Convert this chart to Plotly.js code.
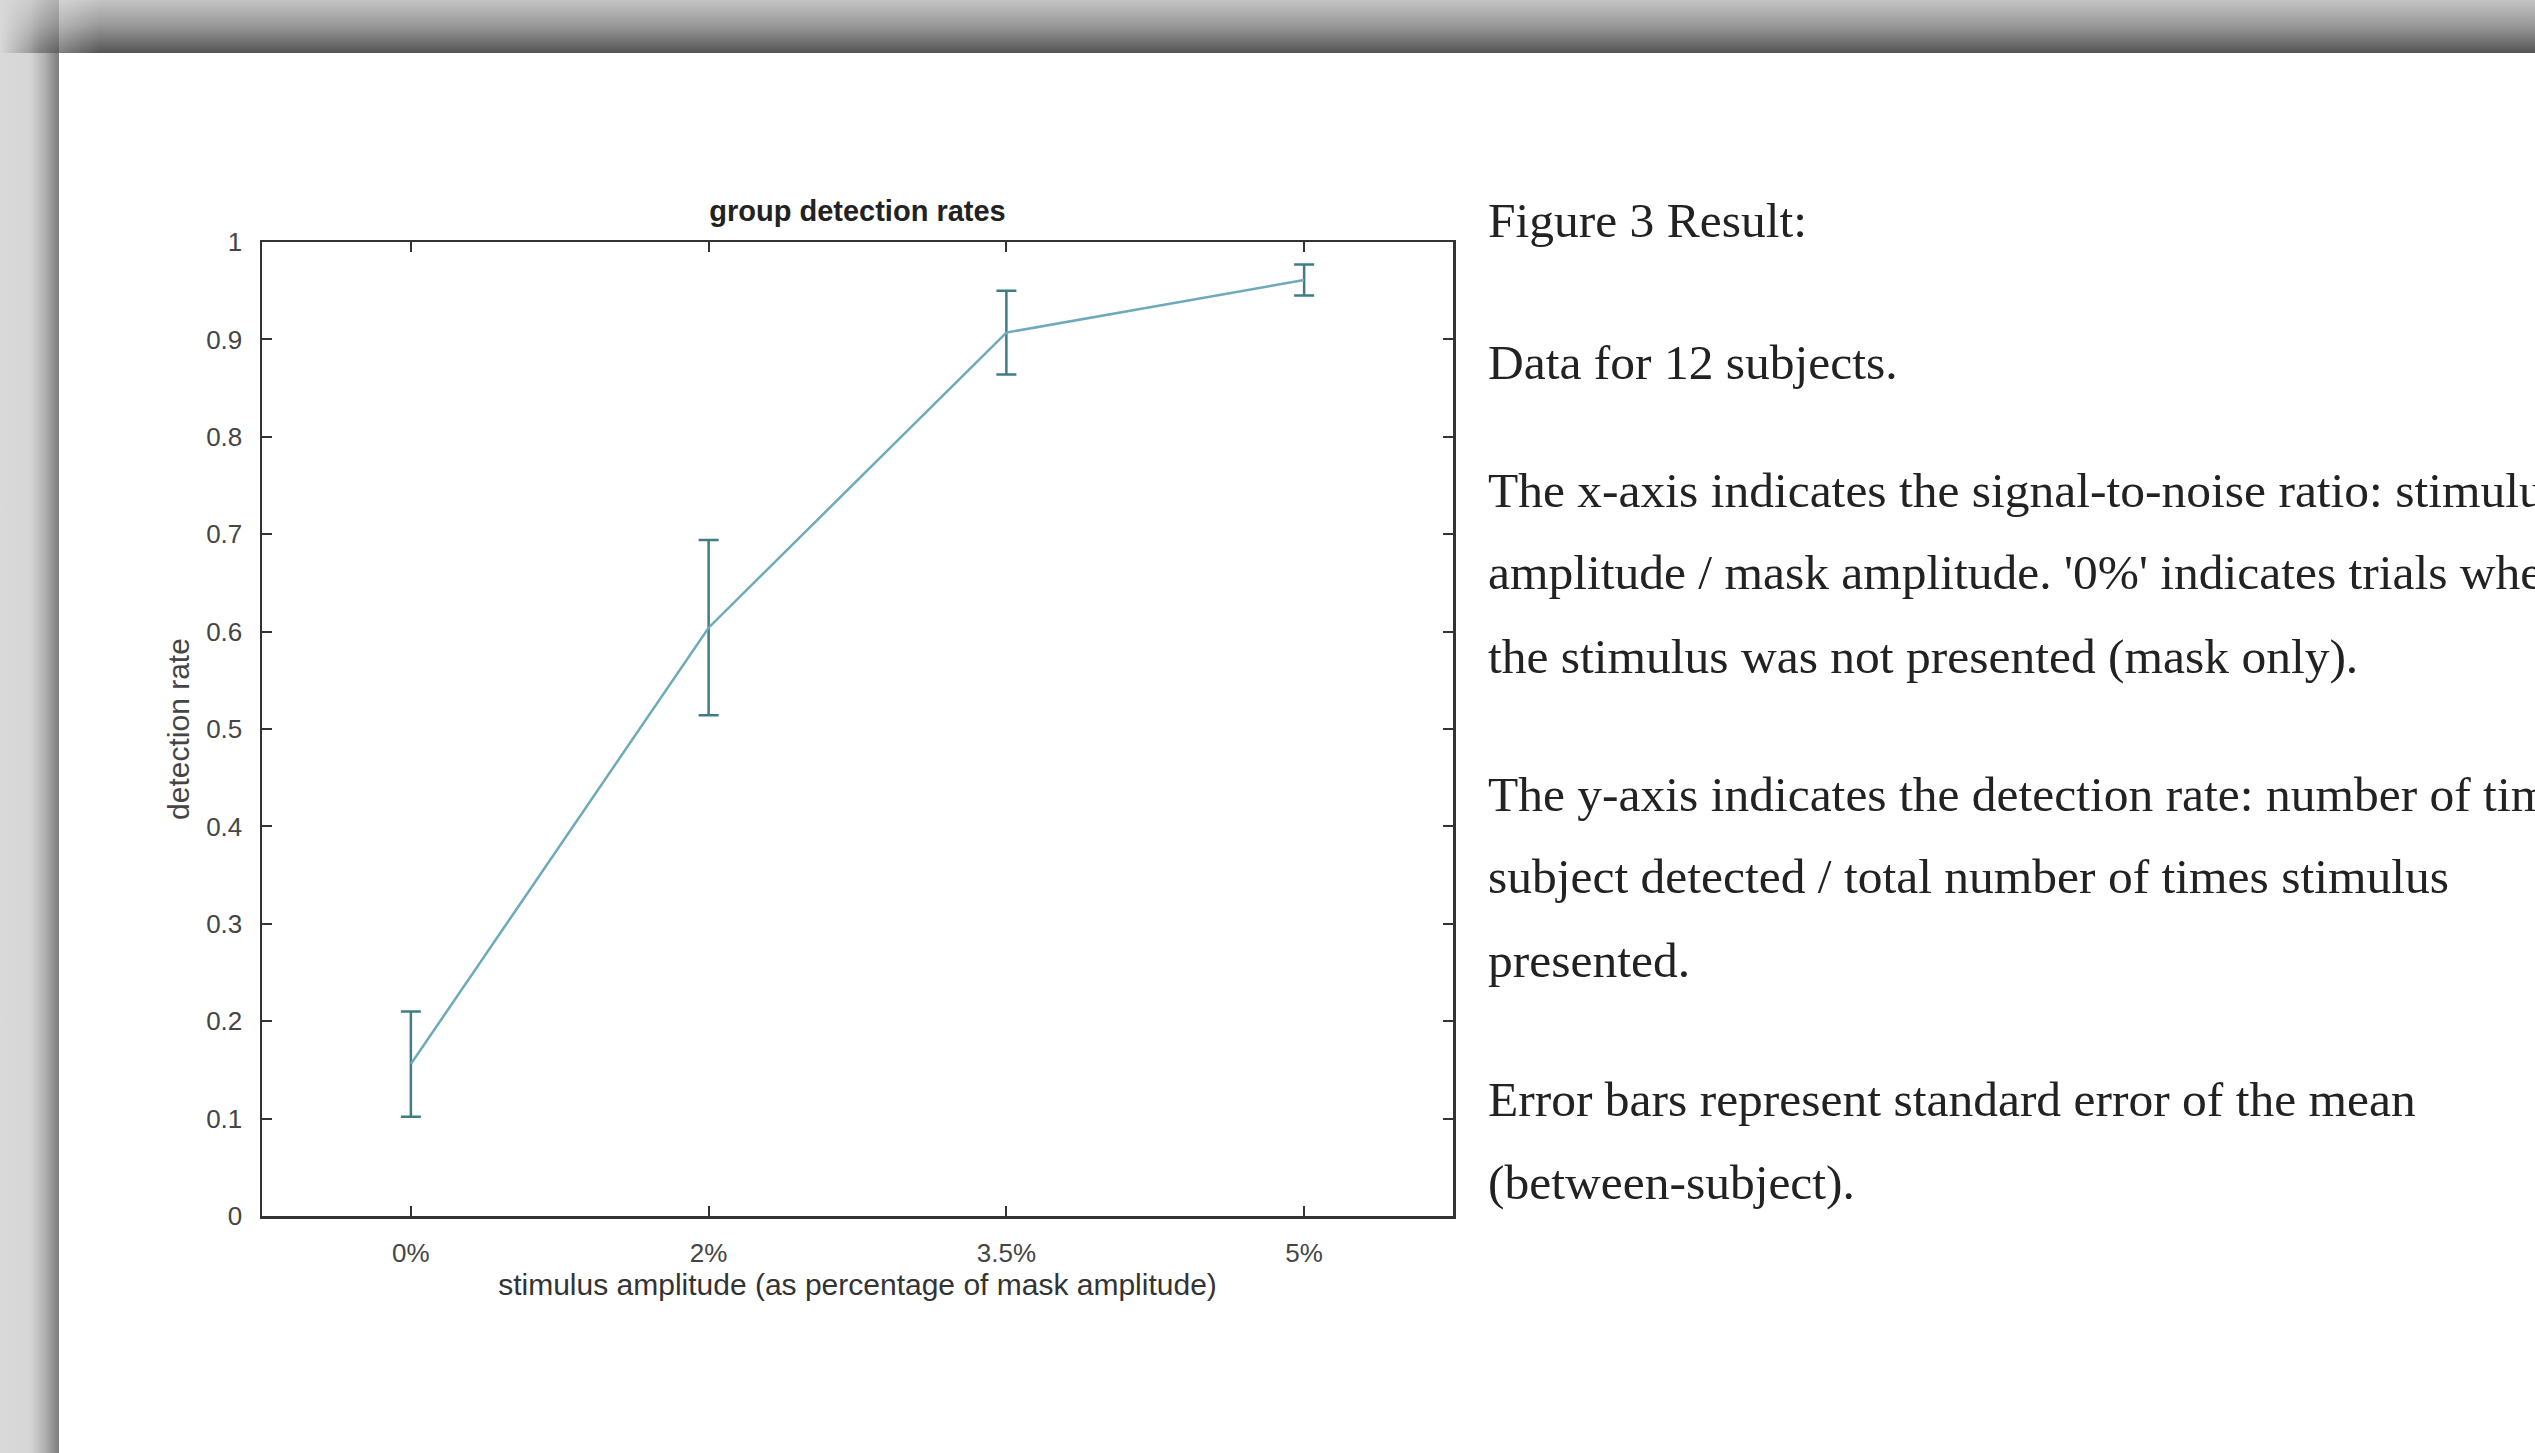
<!DOCTYPE html>
<html>
<head>
<meta charset="utf-8">
<script src="https://cdn.plot.ly/plotly-3.0.1.min.js"></script>
<style>
  html, body { margin: 0; padding: 0; background: #ffffff; overflow: hidden; }
  #wrap { position: relative; width: 2535px; height: 1453px; overflow: hidden; }
  #chart { position: absolute; left: 0; top: 0; width: 2535px; height: 1453px; }
  #leftband { position: absolute; left: 0; top: 0; width: 59px; height: 1453px; z-index: 5;
    background: linear-gradient(to right, #dadada 0px, #d6d6d6 30px, #b0b0b0 45px, #7c7c7c 59px); }
  #topband { position: absolute; left: 0; top: 0; width: 2535px; height: 53px; z-index: 6;
    background: linear-gradient(to bottom, #c4c4c4 0px, #9a9a9a 25px, #545454 53px);
    -webkit-mask-image: linear-gradient(to right, transparent 0px, rgba(0,0,0,0.6) 40px, black 100px);
    mask-image: linear-gradient(to right, transparent 0px, rgba(0,0,0,0.6) 40px, black 100px); }
</style>
</head>
<body>
<div id="wrap">
  <div id="chart"></div>
  <div id="leftband"></div>
  <div id="topband"></div>
</div>
<script>
// ---- data ----
const amplitudeLabels = ['0%', '2%', '3.5%', '5%'];
const detectionRate   = [0.156, 0.604, 0.907, 0.961];
const stdErrorMean    = [0.054, 0.090, 0.043, 0.016];

const chartTitle = 'group detection rates';
const xAxisTitle = 'stimulus amplitude (as percentage of mask amplitude)';
const yAxisTitle = 'detection rate';

const captionLines = [
  'Figure 3 Result:',
  'Data for 12 subjects.',
  'The x-axis indicates the signal-to-noise ratio: stimulus',
  "amplitude / mask amplitude. '0%' indicates trials where",
  'the stimulus was not presented (mask only).',
  'The y-axis indicates the detection rate: number of times',
  'subject detected / total number of times stimulus',
  'presented.',
  'Error bars represent standard error of the mean',
  '(between-subject).'
];
// ---- layout (pixels) ----
const W = 2535, H = 1453;
const plotL = 262, plotR = 1453, plotT = 242, plotB = 1216;
const captionX = 1486;
const captionY = [220, 362, 490, 572, 656, 794, 876, 960, 1099, 1182];

const px2paperX = p => (p - plotL) / (plotR - plotL);
const px2paperY = p => (plotB - p) / (plotB - plotT);

const trace = {
  type: 'scatter',
  mode: 'lines',
  x: amplitudeLabels,
  y: detectionRate,
  line: { color: '#6eaaba', width: 2.5 },
  error_y: {
    type: 'data',
    array: stdErrorMean,
    visible: true,
    color: '#3f7c86',
    thickness: 2.5,
    width: 10
  },
  hoverinfo: 'x+y'
};

const tickFont = { family: 'Liberation Sans, Arial, sans-serif', size: 26, color: '#454545' };

const annotations = captionLines.map((t, i) => ({
  xref: 'paper', yref: 'paper',
  x: px2paperX(captionX), y: px2paperY(captionY[i]),
  xanchor: 'left', yanchor: 'middle',
  text: t.replace(/</g, '&lt;'),
  showarrow: false,
  align: 'left',
  font: { family: 'Liberation Serif, Times New Roman, serif', size: 49.5, color: '#222222' }
}));

const layout = {
  width: W, height: H,
  paper_bgcolor: '#ffffff',
  plot_bgcolor: '#ffffff',
  showlegend: false,
  margin: { l: plotL, r: W - plotR, t: plotT, b: H - plotB, pad: 0 },
  title: {
    text: '<b>' + chartTitle + '</b>',
    font: { family: 'Liberation Sans, Arial, sans-serif', size: 29, color: '#222222' },
    xref: 'paper', x: 0.5, xanchor: 'center',
    yref: 'container', y: 1 - 211 / H, yanchor: 'middle'
  },
  xaxis: {
    type: 'category',
    range: [-0.5, 3.5],
    showgrid: false, zeroline: false,
    showline: true, linecolor: '#333333', linewidth: 2.5, mirror: 'ticks',
    ticks: 'inside', ticklen: 10, tickwidth: 2, tickcolor: '#333333',
    tickfont: tickFont,
    ticklabelstandoff: 12,
    title: {
      text: xAxisTitle,
      font: { family: 'Liberation Sans, Arial, sans-serif', size: 30, color: '#333333' },
      standoff: 8
    }
  },
  yaxis: {
    range: [0, 1],
    dtick: 0.1, tick0: 0,
    showgrid: false, zeroline: false,
    showline: true, linecolor: '#333333', linewidth: 2.5, mirror: 'ticks',
    ticks: 'inside', ticklen: 10, tickwidth: 2, tickcolor: '#333333',
    tickfont: tickFont,
    ticklabelstandoff: 12,
    title: {
      text: yAxisTitle,
      font: { family: 'Liberation Sans, Arial, sans-serif', size: 30, color: '#454545' },
      standoff: 8
    }
  },
  annotations: annotations
};

Plotly.newPlot('chart', [trace], layout, { staticPlot: true, displayModeBar: false });
</script>
</body>
</html>
